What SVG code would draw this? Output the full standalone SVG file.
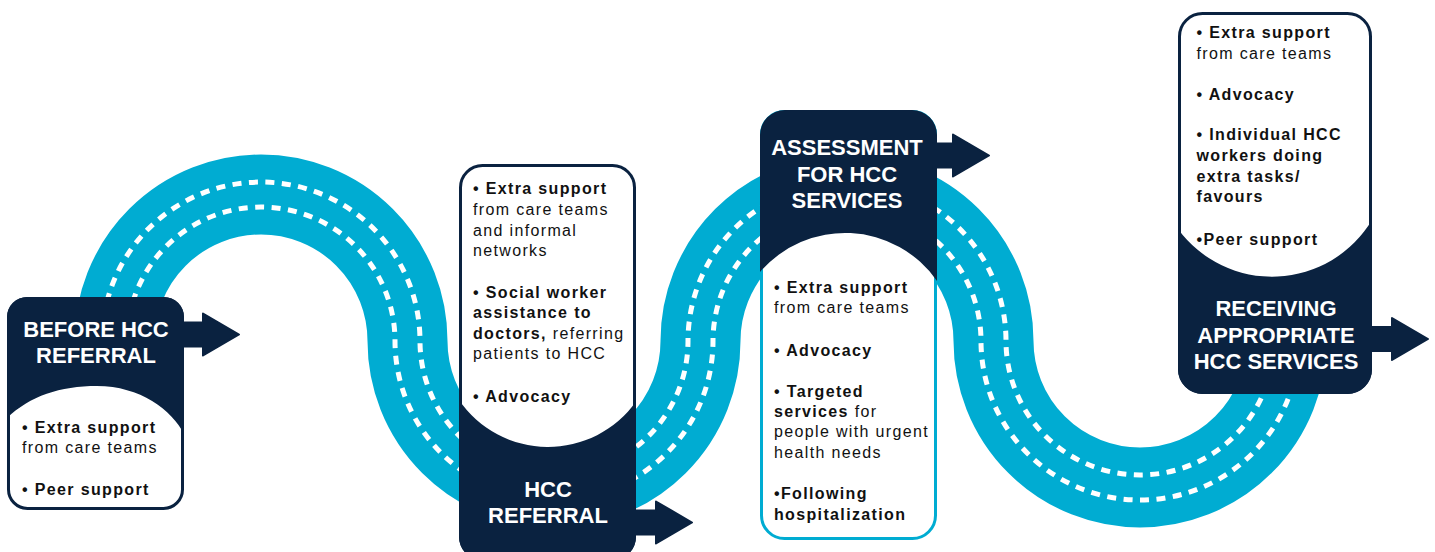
<svg xmlns="http://www.w3.org/2000/svg" width="1435" height="552" viewBox="0 0 1435 552">
<defs>
<style>
.road{fill:none;stroke:#00acd2;stroke-width:80}
.dash{fill:none;stroke:#fff;stroke-width:5;stroke-dasharray:9 7.5}
.navy{fill:#0a2240}
.card{fill:#fff;stroke:#0a2240;stroke-width:3}
.cardc{fill:#fff;stroke:#00acd2;stroke-width:3}
.t{font-family:"Liberation Sans",Arial,sans-serif;font-size:16px;letter-spacing:1.35px;fill:#111}
.b{font-weight:700}
.h{font-family:"Liberation Sans",Arial,sans-serif;font-size:22px;font-weight:700;fill:#fff;text-anchor:middle}
.arrow{fill:#0a2240;stroke:#0a2240;stroke-width:2;stroke-linejoin:round}
</style>
<path id="arr" d="M0,-12 L20,-12 L20,-21 L56,0 L20,21 L20,12 L0,12 Z"/>
</defs>
<rect width="1435" height="552" fill="#fff"/>

<g id="connectors">
<path class="road" d="M114.5,450 L114.5,341 A146.5,146.5 0 0 1 407.5,341 A146.5,146.5 0 0 0 700.5,341 A146.5,146.5 0 0 1 993.5,341 A146.5,146.5 0 0 0 1286.5,341 L1286.5,300"/>
<path class="dash" d="M102,450 L102,341 A159,159 0 0 1 420,341 A134,134 0 0 0 688,341 A159,159 0 0 1 1006,341 A134,134 0 0 0 1274,341 L1274,300"/>
<path class="dash" d="M127,450 L127,341 A134,134 0 0 1 395,341 A159,159 0 0 0 713,341 A134,134 0 0 1 981,341 A159,159 0 0 0 1299,341 L1299,300"/>
</g>

<g id="before-referral">
<rect class="card" x="8.5" y="298.5" width="174" height="210" rx="19"/>
<path class="navy" d="M7,418 L7,317 A20,20 0 0 1 27,297 L164,297 A20,20 0 0 1 184,317 L184,434 C172,410 140,386 97,386 C60,386 30,396 7,418 Z"/>
<use href="#arr" class="arrow" transform="translate(183,334.5)"/>
<text class="h" x="96" y="337">BEFORE HCC</text>
<text class="h" x="96" y="363">REFERRAL</text>
<text class="t" x="22" y="432.5"><tspan class="b">• Extra support</tspan></text>
<text class="t" x="22" y="453">from care teams</text>
<text class="t b" x="22" y="495">• Peer support</text>
</g>

<g id="hcc-referral">
<rect class="card" x="460.5" y="165.5" width="174" height="393" rx="22"/>
<path class="navy" d="M459,400 A108,108 0 0 0 636,401.6 L636,537 A23,23 0 0 1 613,560 L482,560 A23,23 0 0 1 459,537 Z"/>
<use href="#arr" class="arrow" transform="translate(636,522.5)"/>
<text class="t b" x="473" y="194.3">• Extra support</text>
<text class="t" x="473" y="215">from care teams</text>
<text class="t" x="473" y="235.7">and informal</text>
<text class="t" x="473" y="256">networks</text>
<text class="t b" x="473" y="297.7">• Social worker</text>
<text class="t b" x="473" y="318.3">assistance to</text>
<text class="t" x="473" y="338.7"><tspan class="b">doctors,</tspan> referring</text>
<text class="t" x="473" y="359.3">patients to HCC</text>
<text class="t b" x="473" y="401.7">• Advocacy</text>
<text class="h" x="548" y="497">HCC</text>
<text class="h" x="548" y="523">REFERRAL</text>
</g>

<g id="assessment">
<rect class="cardc" x="761.5" y="111.5" width="174" height="427" rx="23"/>
<path class="navy" d="M760,272 L760,135 A25,25 0 0 1 785,110 L912,110 A25,25 0 0 1 937,135 L937,281 A112,112 0 0 0 760,272 Z"/>
<use href="#arr" class="arrow" transform="translate(933,155.5)"/>
<text class="h" x="847" y="155">ASSESSMENT</text>
<text class="h" x="847" y="181.7">FOR HCC</text>
<text class="h" x="847" y="208.3">SERVICES</text>
<text class="t b" x="774" y="293.3">• Extra support</text>
<text class="t" x="774" y="313.3">from care teams</text>
<text class="t b" x="774" y="355.7">• Advocacy</text>
<text class="t b" x="774" y="396.7">• Targeted</text>
<text class="t" x="774" y="416.7"><tspan class="b">services</tspan> for</text>
<text class="t" x="774" y="437.3">people with urgent</text>
<text class="t" x="774" y="457.7">health needs</text>
<text class="t b" x="774" y="499.3">•Following</text>
<text class="t b" x="774" y="520">hospitalization</text>
</g>

<g id="receiving">
<rect class="card" x="1179.5" y="13.5" width="191" height="379" rx="23"/>
<path class="navy" d="M1178,229 A116.5,116.5 0 0 0 1372,220 L1372,369 A25,25 0 0 1 1347,394 L1203,394 A25,25 0 0 1 1178,369 Z"/>
<use href="#arr" class="arrow" transform="translate(1372,339)"/>
<text class="t b" x="1196.5" y="38.3">• Extra support</text>
<text class="t" x="1196.5" y="59.3">from care teams</text>
<text class="t b" x="1196.5" y="100">• Advocacy</text>
<text class="t b" x="1196.5" y="140">• Individual HCC</text>
<text class="t b" x="1196.5" y="160.7">workers doing</text>
<text class="t b" x="1196.5" y="181.7">extra tasks/</text>
<text class="t b" x="1196.5" y="201.7">favours</text>
<text class="t b" x="1196.5" y="245">•Peer support</text>
<text class="h" x="1276" y="316">RECEIVING</text>
<text class="h" x="1276" y="342.7">APPROPRIATE</text>
<text class="h" x="1276" y="369.3">HCC SERVICES</text>
</g>
</svg>
